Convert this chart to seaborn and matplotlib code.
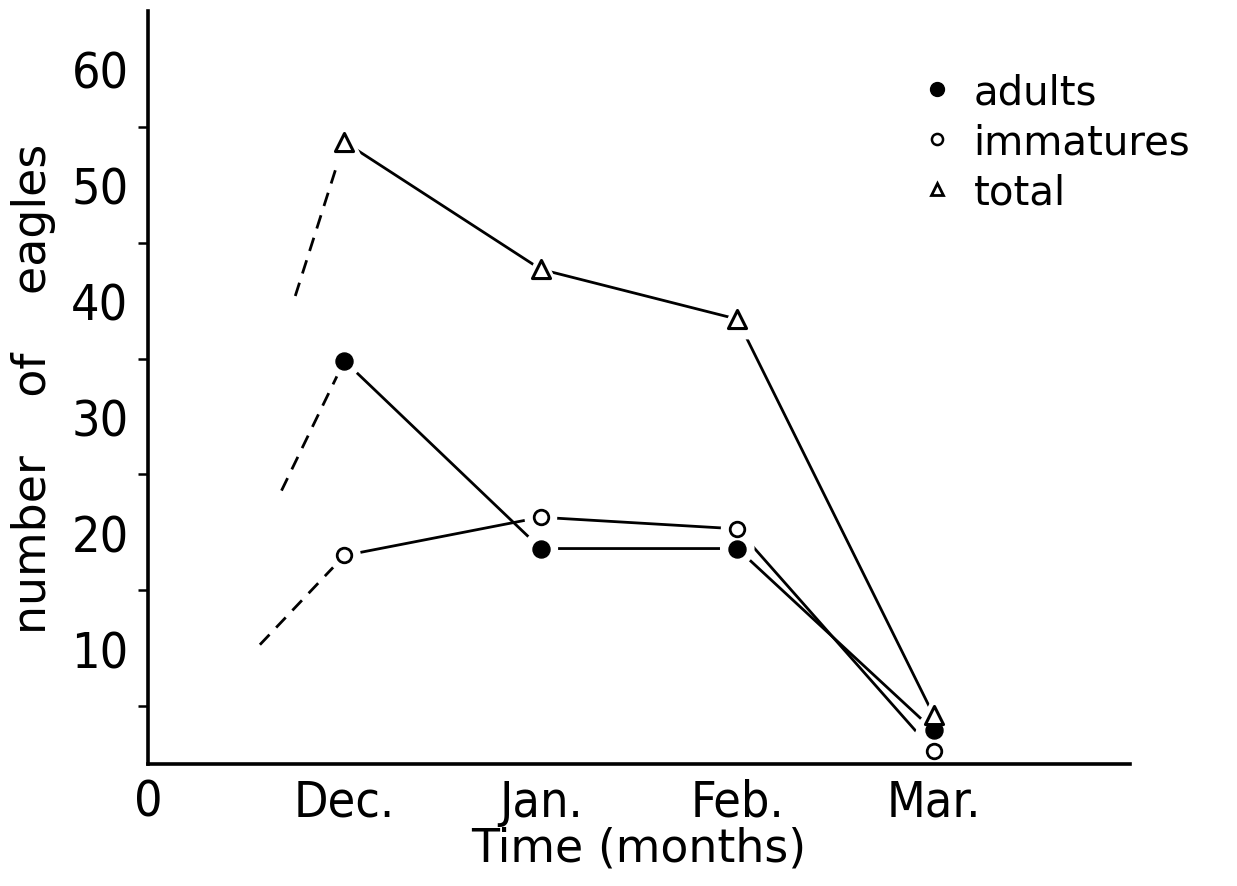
import matplotlib
matplotlib.use("Agg")
import matplotlib.pyplot as plt
import seaborn as sns
import pandas as pd
from matplotlib.lines import Line2D

# Monthly winter counts
months = ["Dec.", "Jan.", "Feb.", "Mar."]
month_pos = [1, 2, 3, 4]
adults = [34.8, 18.6, 18.6, 2.9]
immatures = [18.0, 21.3, 20.3, 1.1]
total = [53.7, 42.7, 38.4, 4.2]

# Extrapolated lead-in to the December counts (x position, count)
lead_x = {"adults": 0.68, "immatures": 0.57, "total": 0.75}
lead_y = {"adults": 23.6, "immatures": 10.3, "total": 40.4}

legend_labels = ["adults", "immatures", "total"]

sns.set_theme(style="white")
plt.rcParams["font.family"] = ["DejaVu Sans"]
plt.rcParams["text.color"] = "black"
plt.rcParams["axes.labelcolor"] = "black"

df = pd.DataFrame({
    "month": month_pos * 3,
    "count": adults + immatures + total,
    "group": ["adults"] * 4 + ["immatures"] * 4 + ["total"] * 4,
})

fig = plt.figure(figsize=(12.37, 8.87), dpi=100)
ax = fig.add_axes([0.1196, 0.1375, 0.794, 0.849])

lw = 2.0
# solid month-to-month lines
sns.lineplot(data=df, x="month", y="count", units="group", estimator=None,
             color="black", linewidth=lw, ax=ax, legend=False)

# dashed lead-in lines
for g in legend_labels:
    first = df[df.group == g].iloc[0]
    seg = pd.DataFrame({"x": [lead_x[g], first["month"]],
                        "y": [lead_y[g], first["count"]]})
    sns.lineplot(data=seg, x="x", y="y", color="black", linewidth=lw,
                 dashes=False, ax=ax, legend=False)
    ax.lines[-1].set_dashes((5, 3.5))

# white halos that open small gaps around every marker
halo = {"adults": ("o", 620), "immatures": ("o", 560), "total": ("^", 850)}
for g in legend_labels:
    sub = df[df.group == g]
    sns.scatterplot(data=sub, x="month", y="count", marker=halo[g][0],
                    s=halo[g][1], color="white", edgecolor="none",
                    ax=ax, legend=False, zorder=3)

style = {
    "adults": dict(marker="o", s=150, color="black", edgecolor="black", linewidth=1),
    "immatures": dict(marker="o", s=110, color="white", edgecolor="black", linewidth=2.0),
    "total": dict(marker="^", s=170, color="white", edgecolor="black", linewidth=2.2),
}
for g in legend_labels:
    sub = df[df.group == g]
    sns.scatterplot(data=sub, x="month", y="count", ax=ax, legend=False,
                    zorder=4, **style[g])

ax.set_xlim(0, 5)
ax.set_ylim(0, 65)

ax.set_xticks([0] + month_pos)
ax.set_xticklabels(["0"] + months)
ax.set_yticks([10, 20, 30, 40, 50, 60])
ax.set_yticks([5, 15, 25, 35, 45, 55], minor=True)

for lab in ax.get_xticklabels() + ax.get_yticklabels():
    lab.set_fontsize(36)
    lab.set_fontstretch("condensed")
    lab.set_color("black")

ax.tick_params(axis="x", direction="in", length=9, width=1.6, pad=10, colors="black")
ax.tick_params(axis="y", which="major", direction="out", length=9, width=1.8,
               pad=5, colors="black")
ax.tick_params(axis="y", which="minor", direction="out", length=7, width=1.8,
               left=True, colors="black")

for side in ["top", "right"]:
    ax.spines[side].set_visible(False)
for side in ["left", "bottom"]:
    ax.spines[side].set_linewidth(2.6)
    ax.spines[side].set_color("black")
    ax.spines[side].set_zorder(5)

ax.set_xlabel("Time (months)", fontsize=33, labelpad=0)
ax.set_ylabel("number    of    eagles", fontsize=33)
ax.yaxis.set_label_coords(-0.094, 0.50)

# legend
handles = [
    Line2D([], [], linestyle="none", marker="o", markersize=10,
           markerfacecolor="black", markeredgecolor="black"),
    Line2D([], [], linestyle="none", marker="o", markersize=8,
           markerfacecolor="white", markeredgecolor="black", markeredgewidth=1.8),
    Line2D([], [], linestyle="none", marker="^", markersize=9,
           markerfacecolor="white", markeredgecolor="black", markeredgewidth=2),
]
leg = ax.legend(handles, legend_labels, loc="upper left",
                bbox_to_anchor=(0.775, 0.94), frameon=False, fontsize=29,
                handlelength=0.6, handletextpad=0.6, labelspacing=0.25,
                borderaxespad=0)
for t in leg.get_texts():
    t.set_color("black")

fig.savefig("out.png", dpi=100, facecolor="white")
